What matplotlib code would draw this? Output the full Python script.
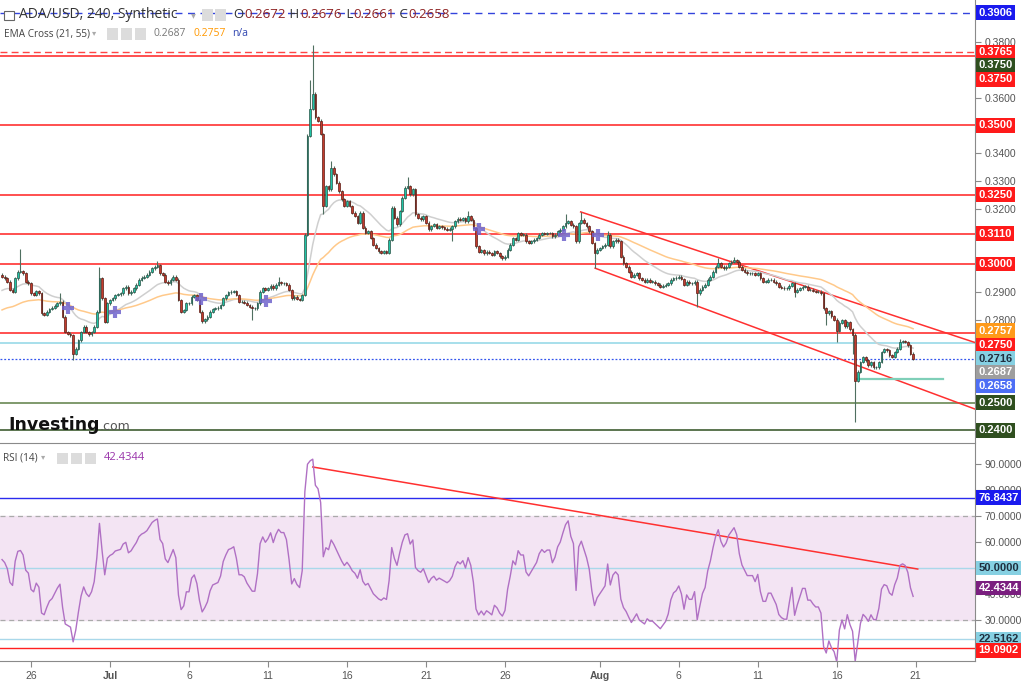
import numpy as np
import pandas as pd
import matplotlib
matplotlib.use('Agg')
import matplotlib.pyplot as plt
import matplotlib.transforms as mtransforms
from matplotlib.patches import Rectangle

plt.rcParams['font.family'] = ['Liberation Sans', 'DejaVu Sans']

W, H = 1024, 684

# ADA/USD 4h closes, first bar 2018-06-24 04:00
closes = [
    0.2955, 0.2949, 0.2937, 0.2907, 0.2900, 0.2949, 0.2973, 0.2975, 0.2967, 0.2937,
    0.2931, 0.2894, 0.2888, 0.2903, 0.2894, 0.2822, 0.2816, 0.2828, 0.2838, 0.2842,
    0.2850, 0.2858, 0.2864, 0.2810, 0.2755, 0.2749, 0.2743, 0.2677, 0.2695, 0.2725,
    0.2755, 0.2774, 0.2755, 0.2746, 0.2755, 0.2774, 0.2828, 0.2949, 0.2876, 0.2792,
    0.2858, 0.2870, 0.2876, 0.2888, 0.2891, 0.2894, 0.2913, 0.2919, 0.2894, 0.2900,
    0.2913, 0.2925, 0.2943, 0.2951, 0.2955, 0.2961, 0.2973, 0.2985, 0.2991, 0.2995,
    0.2967, 0.2961, 0.2937, 0.2931, 0.2943, 0.2955, 0.2943, 0.2870, 0.2828, 0.2834,
    0.2858, 0.2858, 0.2882, 0.2888, 0.2870, 0.2828, 0.2794, 0.2801, 0.2810, 0.2828,
    0.2838, 0.2840, 0.2842, 0.2852, 0.2876, 0.2888, 0.2898, 0.2900, 0.2903, 0.2888,
    0.2864, 0.2864, 0.2861,
    0.2852, 0.2846, 0.2840, 0.2840, 0.2858, 0.2900, 0.2912, 0.2906, 0.2912, 0.2922,
    0.2912, 0.2925, 0.2934, 0.2931, 0.2931, 0.2925, 0.2906, 0.2876, 0.2882, 0.2874,
    0.2870, 0.2888,
    0.3106, 0.3463, 0.3559, 0.3614, 0.3529, 0.3517, 0.3469, 0.3209, 0.3281, 0.3269,
    0.3348, 0.3324, 0.3293, 0.3263, 0.3233, 0.3209, 0.3227, 0.3209, 0.3185, 0.3173,
    0.3149, 0.3185, 0.3131, 0.3112, 0.3118, 0.3094, 0.3070, 0.3058, 0.3046, 0.3040,
    0.3046, 0.3040, 0.3088, 0.3203, 0.3167, 0.3143, 0.3191, 0.3239, 0.3275, 0.3281,
    0.3251, 0.3269, 0.3179, 0.3167, 0.3161, 0.3173, 0.3149, 0.3125, 0.3137, 0.3143,
    0.3131, 0.3136, 0.3132, 0.3128, 0.3124, 0.3128, 0.3136, 0.3154, 0.3164, 0.3160,
    0.3166, 0.3154, 0.3172, 0.3160, 0.3130, 0.3064, 0.3045, 0.3051, 0.3039, 0.3045,
    0.3040, 0.3034, 0.3046, 0.3040, 0.3028, 0.3021, 0.3027, 0.3052,
    0.3070, 0.3094, 0.3088, 0.3112, 0.3106, 0.3106, 0.3082, 0.3076, 0.3082, 0.3088,
    0.3094, 0.3106, 0.3112, 0.3109, 0.3112, 0.3112, 0.3100, 0.3106, 0.3118, 0.3124,
    0.3136, 0.3148, 0.3154, 0.3142, 0.3136, 0.3082, 0.3148, 0.3160, 0.3148, 0.3136,
    0.3118, 0.3076, 0.3040, 0.3052, 0.3058, 0.3064, 0.3070, 0.3106, 0.3064, 0.3082,
    0.3088, 0.3082, 0.3027, 0.3003, 0.2991, 0.2973, 0.2955, 0.2961, 0.2967, 0.2949,
    0.2943, 0.2937, 0.2943, 0.2937, 0.2937, 0.2931, 0.2925, 0.2919, 0.2922, 0.2925,
    0.2931, 0.2943, 0.2949, 0.2951, 0.2955, 0.2946, 0.2925, 0.2937, 0.2931, 0.2931,
    0.2937, 0.2895, 0.2907, 0.2919, 0.2925, 0.2943, 0.2955, 0.2973, 0.2991, 0.3003,
    0.2991, 0.2985, 0.2991, 0.3003, 0.3009, 0.3015, 0.3009, 0.2991, 0.2979, 0.2973,
    0.2967, 0.2967, 0.2967, 0.2961, 0.2967, 0.2949, 0.2937, 0.2937, 0.2943, 0.2943,
    0.2937, 0.2931, 0.2919, 0.2915, 0.2913, 0.2913, 0.2922, 0.2931, 0.2900, 0.2907,
    0.2913, 0.2919, 0.2919, 0.2907, 0.2907, 0.2903, 0.2900, 0.2900, 0.2894, 0.2840,
    0.2822, 0.2830, 0.2812, 0.2800, 0.2760, 0.2788, 0.2798, 0.2775, 0.2790, 0.2765,
    0.2745, 0.2580, 0.2612, 0.2647, 0.2665, 0.2653, 0.2635, 0.2647, 0.2628, 0.2628,
    0.2647, 0.2683, 0.2692, 0.2689, 0.2671, 0.2665, 0.2683, 0.2695, 0.2719, 0.2722,
    0.2719, 0.2707, 0.2677, 0.2658,
]
first_open = 0.2962

# long wicks that stand out (bar index -> price)
wick_high = {7: 0.3053, 22: 0.2894, 37: 0.2991, 59: 0.3012, 105: 0.2955, 117: 0.3662,
             118: 0.3789, 125: 0.3370, 154: 0.3315, 177: 0.3191, 214: 0.3181, 220: 0.3188,
             230: 0.3118, 272: 0.3021, 278: 0.3027, 341: 0.2728}
wick_low = {27: 0.2653, 95: 0.2798, 122: 0.3180, 171: 0.3082, 225: 0.2985, 264: 0.2846,
            301: 0.2880, 313: 0.2780, 317: 0.2720, 323: 0.2677, 324: 0.2429}

# indicator state before the first visible bar
ema21_seed, ema55_seed = 0.2900, 0.2830
rsi_gain_seed, rsi_loss_seed = 0.0012, 0.0010

red_levels = [0.3750, 0.3500, 0.3250, 0.3110, 0.3000, 0.2750]
green_levels = [0.2500, 0.2400]
last_price = 0.2658
cyan_level = 0.2716
alert_high = 0.3906
alert_red = 0.3765

# channel lines: (date, price) endpoints
channel_top = [('2018-07-30 19:00', 0.3188), ('2018-08-24 18:00', 0.2717)]
channel_bot = [('2018-07-31 17:00', 0.2985), ('2018-08-24 18:00', 0.2477)]
support_short = [('2018-08-17 06:00', 0.2586), ('2018-08-22 17:00', 0.2586)]
rsi_trend = [('2018-07-13 20:00', 88.85), ('2018-08-21 03:00', 49.6)]

# EMA cross markers
cross_dates = ['2018-06-28 08:00', '2018-07-01 08:00', '2018-07-06 19:00', '2018-07-10 21:00',
               '2018-07-24 08:00', '2018-07-29 17:00', '2018-07-31 21:00']
cross_prices = [0.2842, 0.2828, 0.2875, 0.2868, 0.3127, 0.3104, 0.3104]

tick_dates = ['2018-06-26', '2018-07-01', '2018-07-06', '2018-07-11', '2018-07-16', '2018-07-21',
              '2018-07-26', '2018-08-01', '2018-08-06', '2018-08-11', '2018-08-16', '2018-08-21']
tick_labels = ['26', 'Jul', '6', '11', '16', '21', '26', 'Aug', '6', '11', '16', '21']
price_ticks = [0.3800, 0.3600, 0.3400, 0.3300, 0.3200, 0.2900, 0.2800]   # ones not hidden by tags
rsi_ticks = [90, 80, 70, 60, 40, 30]

price_tags = ['0.3906', '0.3765', '0.3750', '0.3750', '0.3500', '0.3250', '0.3110', '0.3000',
              '0.2757', '0.2750', '0.2716', '0.2687', '0.2658', '0.2500', '0.2400']
rsi_tags = ['76.8437', '50.0000', '42.4344', '22.5162', '19.0902']
rsi_levels = [76.8437, 50.0, 22.5162, 19.0902]

t0 = pd.Timestamp('2018-07-01')
def days(s):
    return (pd.Timestamp(s) - t0) / pd.Timedelta(days=1)

c = np.array(closes)
t = ((pd.date_range('2018-06-24 04:00', periods=len(c), freq='4h') - t0) / pd.Timedelta(days=1)).values
o = np.r_[first_open, c[:-1]]
hi = np.maximum(o, c) + 0.0005
lo = np.minimum(o, c) - 0.0005
for k, v in wick_high.items():
    hi[k] = v
for k, v in wick_low.items():
    lo[k] = v


def ema(vals, n, seed):
    a = 2 / (n + 1)
    e, out = seed, []
    for v in vals:
        e = e + a * (v - e)
        out.append(e)
    return np.array(out)


def rsi(vals, n, g, l, prev):
    out = []
    for v in vals:
        d = v - prev
        g = (g * (n - 1) + max(d, 0)) / n
        l = (l * (n - 1) + max(-d, 0)) / n
        out.append(100 - 100 / (1 + g / l))
        prev = v
    return np.array(out)


ema21 = ema(c, 21, ema21_seed)
ema55 = ema(c, 55, ema55_seed)
rsi14 = rsi(c, 14, rsi_gain_seed, rsi_loss_seed, first_open)

fig = plt.figure(figsize=(W / 100, H / 100), dpi=100)
ax = fig.add_axes([0, 1 - 442 / H, 975 / W, 442 / H])
ax2 = fig.add_axes([0, 1 - 661 / H, 975 / W, (661 - 443) / H], sharex=ax)

ax.set_xlim(-6.962, 54.75)
ax.set_ylim(0.23582, 0.39523)
ax2.set_ylim(14.23, 98.08)

# horizontal levels
for lv in red_levels:
    ax.axhline(lv, color='#ff1f1f', lw=1.1, zorder=1)
for lv, col in zip(green_levels, ['#5d7f45', '#2f4f1f']):
    ax.axhline(lv, color=col, lw=1.1, zorder=1)
ax.axhline(cyan_level, color='#8fd6e6', lw=1.1, zorder=1)
ax.axhline(last_price, color='#3355ee', lw=0.9, ls=(0, (1.5, 1.5)), zorder=1)
ax.axhline(alert_high, color='#3344dd', lw=1, ls=(0, (5, 4)), zorder=1)
ax.axhline(alert_red, color='#ff4444', lw=1, ls=(0, (5, 3)), zorder=1)

for seg, col, lw in [(channel_top, '#ff3030', 1.1), (channel_bot, '#ff3030', 1.1),
                     (support_short, '#7fcfb8', 1.6)]:
    ax.plot([days(seg[0][0]), days(seg[1][0])], [seg[0][1], seg[1][1]], color=col, lw=lw, zorder=2)

ax.plot(t, ema21, color='#cfcfcf', lw=1.1, zorder=2)
ax.plot(t, ema55, color='#ffc98a', lw=1.1, zorder=2)

# candles
up = c >= o
ax.vlines(t, lo, hi, color='#4f6f60', lw=0.8, zorder=3)
ax.bar(t[up], np.maximum((c - o)[up], 0.00008), bottom=o[up], width=0.11,
       color='#1fc4a6', edgecolor='#2c5247', lw=0.5, zorder=4)
ax.bar(t[~up], np.maximum((o - c)[~up], 0.00008), bottom=c[~up], width=0.11,
       color='#c23b2c', edgecolor='#5a1c15', lw=0.5, zorder=4)

ax.plot([days(d) for d in cross_dates], cross_prices, ls='none', marker='+', ms=9, mew=3,
        color='#6f63cc', alpha=0.85, zorder=5)

# RSI panel
ax2.axhspan(30, 70, color='#f3e4f3', zorder=0)
ax2.axhline(70, color='#aaaaaa', lw=0.9, ls=(0, (4, 3)), zorder=1)
ax2.axhline(30, color='#aaaaaa', lw=0.9, ls=(0, (4, 3)), zorder=1)
for lv, col in zip(rsi_levels, ['#2b2bee', '#a9d8ea', '#a9d8ea', '#ff2020']):
    ax2.axhline(lv, color=col, lw=1, zorder=1)
ax2.plot([days(rsi_trend[0][0]), days(rsi_trend[1][0])], [rsi_trend[0][1], rsi_trend[1][1]],
         color='#ff3030', lw=1.1, zorder=2)
ax2.plot(t, rsi14, color='#b070c4', lw=1, zorder=3)

# axes styling
for a in (ax, ax2):
    for s in ('left', 'top', 'bottom'):
        a.spines[s].set_visible(False)
    a.spines['right'].set_color('#8a8a8a')
    a.yaxis.tick_right()
    a.tick_params(axis='y', length=4, width=0.8, color='#8a8a8a', labelsize=7.5,
                  labelcolor='#555555', pad=3)
for s in ('top', 'bottom'):
    ax2.spines[s].set_visible(True)
    ax2.spines[s].set_color('#8a8a8a')

ax.set_yticks(price_ticks)
ax.yaxis.set_major_formatter(matplotlib.ticker.FormatStrFormatter('%.4f'))
ax2.set_yticks(rsi_ticks)
ax2.yaxis.set_major_formatter(matplotlib.ticker.FormatStrFormatter('%.4f'))
ax.tick_params(axis='x', bottom=False, labelbottom=False)

ax2.set_xticks([days(d) for d in tick_dates])
ax2.set_xticklabels(tick_labels)
ax2.tick_params(axis='x', length=4, width=0.8, color='#8a8a8a', labelsize=7.5,
                labelcolor='#555555', pad=3)
for lab in ax2.get_xticklabels():
    if lab.get_text() in ('Jul', 'Aug'):
        lab.set_fontweight('bold')

# value tags on the right axis (positions shifted to avoid overlap, like the platform does)
tag_pos = [0.3906, 0.3764, 0.3717, 0.3666, 0.3500, 0.3250, 0.3110, 0.3000,
           0.2759, 0.2708, 0.2658, 0.2610, 0.2560, 0.2500, 0.2400]
tag_bg = ['#1a1aee', '#ff1a1a', '#2f4f1f', '#ff1a1a', '#ff1a1a', '#ff1a1a', '#ff1a1a', '#ff1a1a',
          '#ff9a1a', '#ff1a1a', '#86d0e2', '#9e9e9e', '#4d6ef5', '#2f4f1f', '#2f4f1f']
tag_fg = ['white'] * 10 + ['#1f2f3f'] + ['white'] * 4
rsi_pos = [77.0, 50.0, 42.3, 22.7, 18.4]
rsi_bg = ['#1a1aee', '#86d0e2', '#7a1f7f', '#86d0e2', '#ff1a1a']
rsi_fg = ['white', '#1f2f3f', 'white', '#1f2f3f', 'white']


def tag(a, y, s, bg, fg):
    tr = mtransforms.blended_transform_factory(a.transAxes, a.transData)
    a.text(1.0035, y, s, transform=tr, ha='left', va='center', fontsize=8, fontweight='bold',
           color=fg, zorder=10, clip_on=False,
           bbox=dict(boxstyle='square,pad=0.22', fc=bg, ec=bg, lw=0))


for s, y, bg, fg in zip(price_tags, tag_pos, tag_bg, tag_fg):
    tag(ax, y, s, bg, fg)
for s, y, bg, fg in zip(rsi_tags, rsi_pos, rsi_bg, rsi_fg):
    tag(ax2, y, s, bg, fg)


# header / legend texts
def px(x, y):
    return x / W, 1 - y / H


def chain(a, x, y, parts, size, family='Open Sans'):
    art = a.annotate(parts[0][0], xy=px(x, y), xycoords='figure fraction', va='center',
                     fontsize=size, color=parts[0][1], family=family, annotation_clip=False)
    for s, col in parts[1:]:
        art = a.annotate(s, xy=(1, 0.5), xycoords=art, xytext=(0.6, 0), textcoords='offset points',
                         va='center', ha='left', fontsize=size, color=col, family=family,
                         annotation_clip=False)
    return art


def icons(xs, y, size=11):
    for x in xs:
        fig.add_artist(Rectangle(px(x, y + size / 2), size / W, size / H,
                                 transform=fig.transFigure, fc='#dcdcdc', ec='none', zorder=6))


fig.add_artist(Rectangle(px(4, 20), 10 / W, 9 / H, transform=fig.transFigure,
                         fc='white', ec='#666666', lw=0.8, zorder=6))
chain(ax, 19, 15, [('ADA/USD, 240, Synthetic', '#333333')], 10)
fig.text(*px(191, 15), '\u25be', fontsize=7, color='#aaaaaa', va='center')
icons([202, 215], 15)
chain(ax, 233, 15, [('O', '#333333'), ('0.2672', '#8e2323'), (' H', '#333333'), ('0.2676', '#8e2323'),
                    (' L', '#333333'), ('0.2661', '#8e2323'), (' C', '#333333'), ('0.2658', '#8e2323')], 9.5)

chain(ax, 4, 34, [('EMA Cross (21, 55)', '#444444')], 7.2)
fig.text(*px(92, 34), '\u25be', fontsize=6, color='#aaaaaa', va='center')
icons([107, 121, 135], 34)
chain(ax, 153, 34, [('0.2687', '#777777')], 7.5)
chain(ax, 193, 34, [('0.2757', '#ff9800')], 7.5)
chain(ax, 232, 34, [('n/a', '#3046b0')], 7.5)

chain(ax2, 3, 458, [('RSI (14)', '#444444')], 7.2)
fig.text(*px(41, 458), '\u25be', fontsize=6, color='#aaaaaa', va='center')
icons([57, 71, 85], 458)
chain(ax2, 104, 458, [('42.4344', '#9933aa')], 8)

wm = ax.annotate('Investing', xy=px(8, 425), xycoords='figure fraction', va='center',
                 fontsize=12.5, fontweight='bold', color='#111111', family='DejaVu Sans',
                 annotation_clip=False)
ax.annotate('.com', xy=(1, 0.42), xycoords=wm, va='center', fontsize=9, color='#555555',
            family='DejaVu Sans', annotation_clip=False)

fig.savefig('out.png', dpi=100, facecolor='white')
